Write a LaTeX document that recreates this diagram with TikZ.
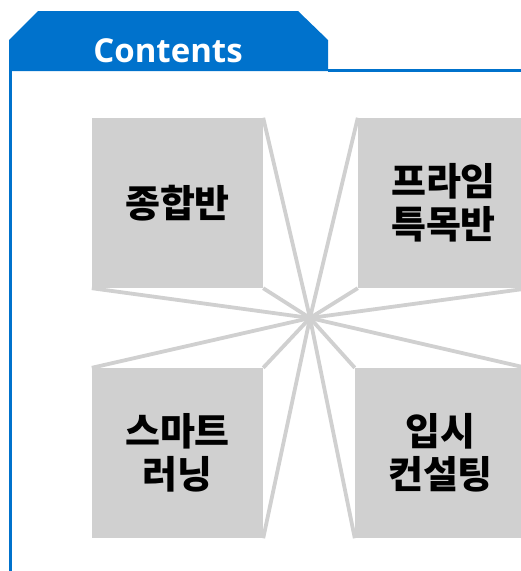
\documentclass[tikz,border=0pt]{standalone}
\usepackage{fontspec}
\setmainfont{Open Sans}
\newfontfamily\krfont{Noto Sans CJK KR}
\definecolor{tabblue}{RGB}{0,114,204}
\definecolor{boxgray}{RGB}{208,208,208}

\begin{document}
\begin{tikzpicture}[
                x=1pt, y=-1pt, % pixel-like units, y pointing down
                box/.style={fill=boxgray, minimum width=171pt, minimum height=170pt,
                    inner sep=0pt, align=center,
                    font=\krfont\bfseries\fontsize{38}{43}\selectfont},
                spoke/.style={draw=boxgray, line width=3.8pt}
            ]

            \useasboundingbox (0,0) rectangle (521,571);
            \clip (0,0) rectangle (521,571);

            % Tab with title
            \fill[tabblue] (9,71) -- (9,40) -- (38,11) -- (298,11) -- (328,40) -- (328,71) -- cycle;
            \draw[tabblue, line width=3pt] (328,70.5) -- (521,70.5);
            \draw[tabblue, line width=3pt] (10.5,40) -- (10.5,571);
            \node[anchor=base, text=white, font=\bfseries\fontsize{33}{38}\selectfont] (title) at (168,62) {Contents};

            % Four boxes
            \node[box] (tl) at (177.5,203) {종합반};
            \node[box] (tr) at (443.5,203) {프라임\\특목반};
            \node[box] (bl) at (177.5,453) {스마트\\러닝};
            \node[box] (br) at (440.5,453) {입시\\컨설팅};

            \coordinate (hub) at (310,318);

            % Spokes from the hub to the inner corners
            \draw[spoke] (hub) -- (tl.north east);
            \draw[spoke] (hub) -- (tl.south east);
            \draw[spoke] (hub) -- (tl.south west);
            \draw[spoke] (hub) -- (tr.north west);
            \draw[spoke] (hub) -- (tr.south west);
            \draw[spoke] (hub) -- (tr.south east);
            \draw[spoke] (hub) -- (bl.north west);
            \draw[spoke] (hub) -- (bl.north east);
            \draw[spoke] (hub) -- (bl.south east);
            \draw[spoke] (hub) -- (br.north west);
            \draw[spoke] (hub) -- (br.north east);
            \draw[spoke] (hub) -- (br.south west);

        \end{tikzpicture}
\end{document}
